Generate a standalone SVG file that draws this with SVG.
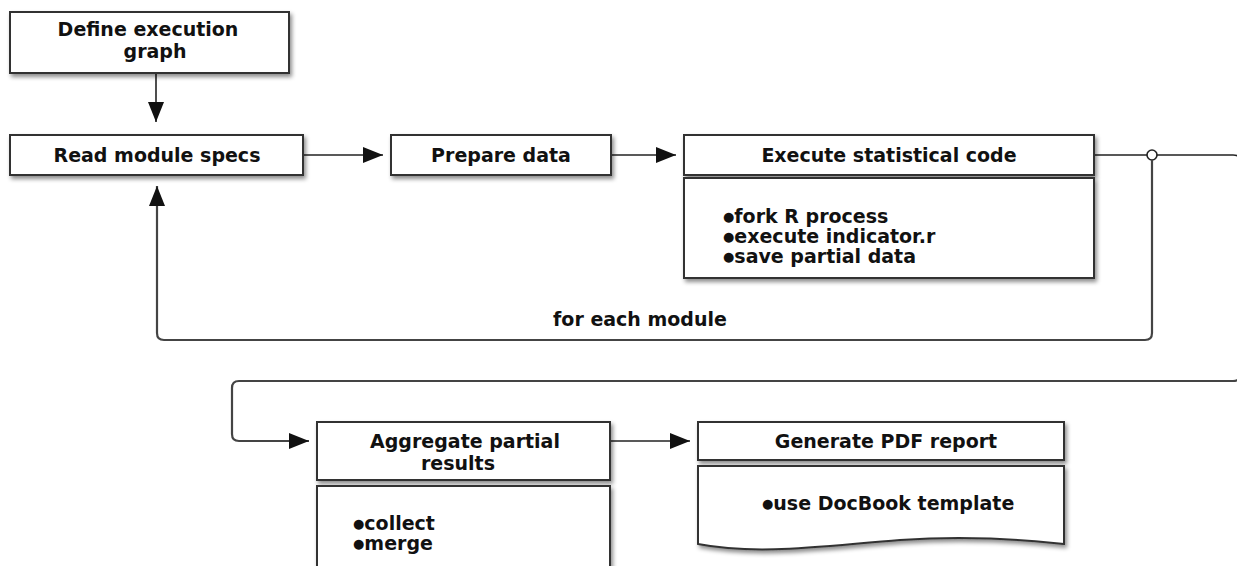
<svg xmlns="http://www.w3.org/2000/svg" width="1237" height="566" viewBox="0 0 1237 566">
<defs>
<filter id="sh" x="-5%" y="-20%" width="115%" height="160%">
<feDropShadow dx="2" dy="3" stdDeviation="2" flood-color="#000" flood-opacity="0.45"/>
</filter>
<marker id="ah" viewBox="0 0 20 16" refX="20" refY="8" markerWidth="20" markerHeight="16" markerUnits="userSpaceOnUse" orient="auto">
<path d="M0,0 L20,8 L0,16 Z" fill="#111"/>
</marker>
</defs>
<style>
.box{fill:#fff;stroke:#333;stroke-width:2;filter:url(#sh)}
.t{font-family:"DejaVu Sans",sans-serif;font-weight:bold;font-size:19px;fill:#111}
.b{font-size:13px}
.c{text-anchor:middle}
.ln{fill:none;stroke:#222;stroke-width:1.6}
.lp{fill:none;stroke:#444;stroke-width:2.2}
</style>
<g id="connectors">
<line class="ln" x1="156" y1="73" x2="156" y2="122" marker-end="url(#ah)"/>
<line class="ln" x1="303" y1="155" x2="383" y2="155" marker-end="url(#ah)"/>
<line class="ln" x1="611" y1="155" x2="676" y2="155" marker-end="url(#ah)"/>
<path class="ln" d="M1094,155 H1233 Q1241,155 1241,163"/>
<circle cx="1152" cy="155" r="5" fill="#fff" stroke="#222" stroke-width="1.6"/>
<path class="lp" d="M1152,160 V333 Q1152,340 1145,340 H164 Q157,340 157,333 V186" marker-end="url(#ah)"/>
<text class="t c" x="640" y="326">for each module</text>
<path class="lp" d="M1241,373 Q1241,381 1233,381 H239 Q232,381 232,388 V434 Q232,441 239,441 H309" marker-end="url(#ah)"/>
<line class="ln" x1="610" y1="441" x2="690" y2="441" marker-end="url(#ah)"/>
</g>
<g id="define">
<rect class="box" x="10" y="12" width="279" height="61"/>
<text class="t c" x="148" y="36">Define execution</text>
<text class="t c" x="155" y="58">graph</text>
</g>
<g id="read">
<rect class="box" x="10" y="135" width="293" height="40"/>
<text class="t c" x="157" y="162">Read module specs</text>
</g>
<g id="prepare">
<rect class="box" x="391" y="135" width="220" height="40"/>
<text class="t c" x="501" y="162">Prepare data</text>
</g>
<g id="execute">
<rect class="box" x="684" y="135" width="410" height="40"/>
<text class="t c" x="889" y="162">Execute statistical code</text>
<rect class="box" x="684" y="178" width="410" height="100"/>
<text class="t" x="723" y="223"><tspan class="b" dy="-2">●</tspan><tspan dy="2">fork R process</tspan></text>
<text class="t" x="723" y="243"><tspan class="b" dy="-2">●</tspan><tspan dy="2">execute indicator.r</tspan></text>
<text class="t" x="723" y="263"><tspan class="b" dy="-2">●</tspan><tspan dy="2">save partial data</tspan></text>
</g>
<g id="aggregate">
<rect class="box" x="317" y="422" width="293" height="58"/>
<text class="t c" x="465" y="448">Aggregate partial</text>
<text class="t c" x="458" y="470">results</text>
<rect class="box" x="317" y="486" width="293" height="90"/>
<text class="t" x="353" y="530"><tspan class="b" dy="-2">●</tspan><tspan dy="2">collect</tspan></text>
<text class="t" x="353" y="550"><tspan class="b" dy="-2">●</tspan><tspan dy="2">merge</tspan></text>
</g>
<g id="generate">
<rect class="box" x="698" y="422" width="366" height="38"/>
<text class="t c" x="886" y="448">Generate PDF report</text>
<path class="box" d="M698,466 H1064 V544 C1010,538 960,536 900,540 C830,545 760,556 698,544 Z"/>
<text class="t" x="762" y="510"><tspan class="b" dy="-2">●</tspan><tspan dy="2">use DocBook template</tspan></text>
</g>
</svg>
